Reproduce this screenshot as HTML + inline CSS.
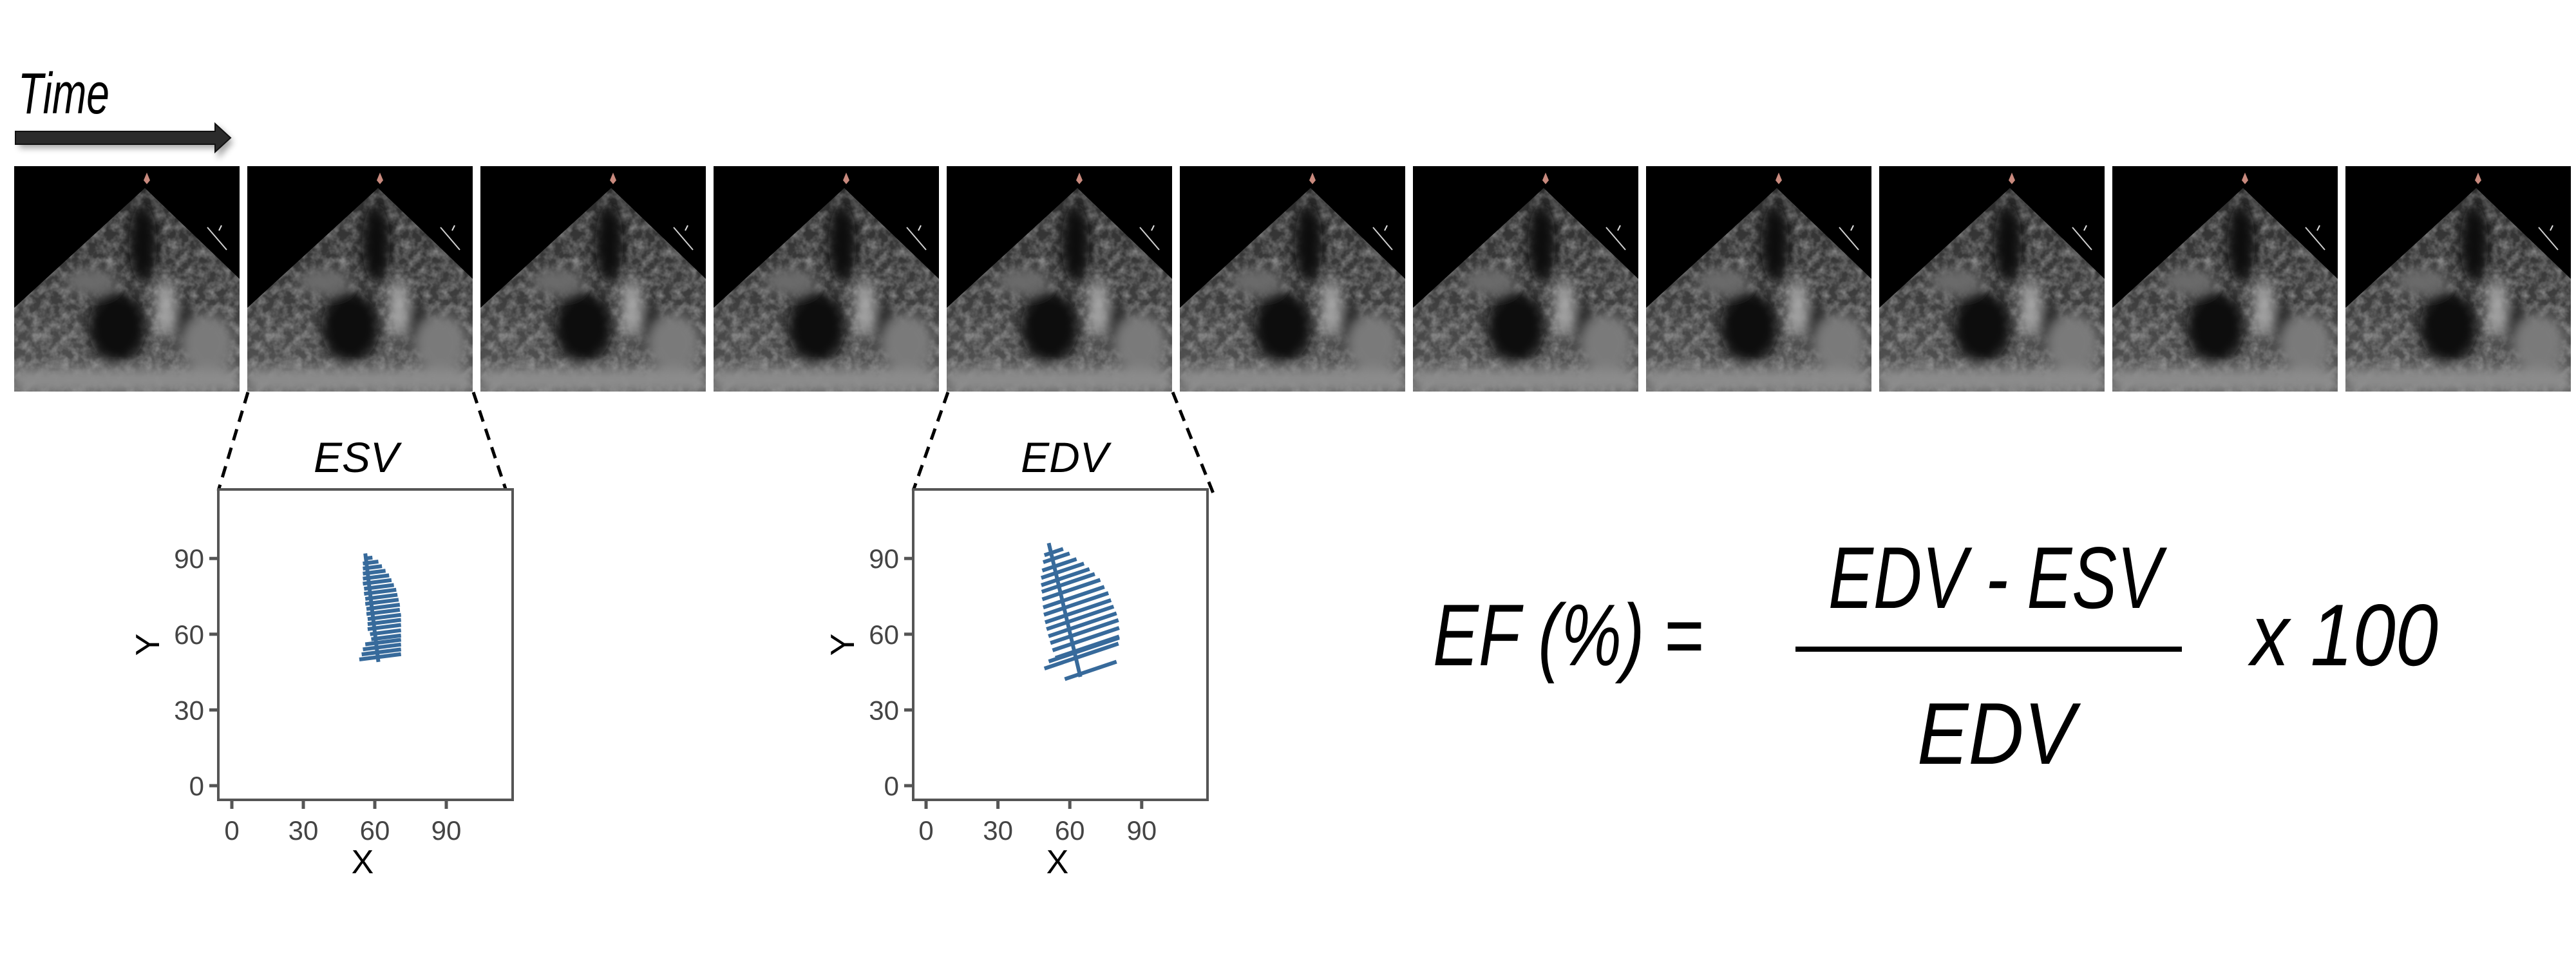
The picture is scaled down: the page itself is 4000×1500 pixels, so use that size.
<!DOCTYPE html>
<html><head><meta charset="utf-8"><style>
html,body{margin:0;padding:0;background:#fff;}
svg{display:block;}
text{font-family:"Liberation Sans",sans-serif;}
</style></head><body>
<svg id="root" width="4000" height="1500" viewBox="0 0 4000 1500" xmlns="http://www.w3.org/2000/svg">
<defs>
  <filter id="speckle" x="0" y="0" width="100%" height="100%">
    <feTurbulence type="fractalNoise" baseFrequency="0.07" numOctaves="3" seed="5" result="n"/>
    <feColorMatrix type="matrix" values="0 0 0 0 0.55  0 0 0 0 0.55  0 0 0 0 0.55  0 0 0 1.8 -0.6"/>
  </filter>
  <filter id="blur6"><feGaussianBlur stdDeviation="9"/></filter>
  <filter id="shadow"><feGaussianBlur stdDeviation="5"/></filter>
  <linearGradient id="sectorGrad" x1="0" y1="0" x2="0" y2="1">
    <stop offset="0" stop-color="#2c2c2c"/>
    <stop offset="0.6" stop-color="#3e3e3e"/>
    <stop offset="1" stop-color="#5a5a5a"/>
  </linearGradient>
  <clipPath id="sectorClip"><polygon points="203,34 0,220 0,350 350,350 350,175"/></clipPath>
  <g id="echo">
    <rect x="0" y="0" width="350" height="350" fill="#000"/>
    <g clip-path="url(#sectorClip)">
      <rect x="0" y="0" width="350" height="350" fill="url(#sectorGrad)"/>
      <rect x="0" y="0" width="350" height="350" filter="url(#speckle)" opacity="0.55"/>
      <g filter="url(#blur6)">
        <ellipse cx="200" cy="120" rx="22" ry="62" fill="#070707"/>
        <ellipse cx="160" cy="250" rx="45" ry="55" fill="#0a0a0a"/>
        <ellipse cx="265" cy="250" rx="15" ry="40" fill="#151515"/>
        <ellipse cx="235" cy="220" rx="14" ry="45" fill="#a8a8a8"/>
        <ellipse cx="300" cy="275" rx="40" ry="45" fill="#7a7a7a"/>
        <ellipse cx="120" cy="180" rx="40" ry="20" fill="#6a6a6a"/>
        <rect x="0" y="315" width="350" height="35" fill="#8c8c8c"/>
      </g>
    </g>
    <path d="M206,10 l5,12 l-5,6 l-5,-6 z" fill="#c98a7e"/>
    <line x1="300" y1="95" x2="330" y2="130" stroke="#cfcfcf" stroke-width="2"/>
    <line x1="318" y1="100" x2="322" y2="92" stroke="#ddd" stroke-width="2"/>
  </g>
</defs>
<rect x="0" y="0" width="4000" height="1500" fill="#fff"/>

<text x="28" y="176" font-size="90" font-style="italic" textLength="142" lengthAdjust="spacingAndGlyphs" fill="#000">Time</text>
<g>
  <path d="M30,212 h308 v-17 l24,26 l-24,26 v-17 h-308 z" fill="#000" opacity="0.35" filter="url(#shadow)"/>
  <path d="M24,204 h310 v-12 l24,22 l-24,22 v-12 h-310 z" fill="#2b2b2b" stroke="#111" stroke-width="2"/>
</g>

<g id="frames"></g>

<g stroke="#000" stroke-width="5" stroke-dasharray="18,12" fill="none">
  <line x1="385" y1="609" x2="339" y2="762"/>
  <line x1="735" y1="609" x2="786" y2="762"/>
</g>
<g stroke="#000" stroke-width="5" stroke-dasharray="18,12" fill="none">
  <line x1="1472" y1="609" x2="1418" y2="762"/>
  <line x1="1821" y1="609" x2="1884" y2="766"/>
</g>

<text x="553" y="733" font-size="66" font-style="italic" text-anchor="middle" fill="#000">ESV</text>
<text x="1653" y="733" font-size="66" font-style="italic" text-anchor="middle" fill="#000">EDV</text>

<g id="esvChart"></g>
<g id="edvChart"></g>

<g fill="#000">
  <text x="2225" y="1033" font-size="136" font-style="italic" textLength="420" lengthAdjust="spacingAndGlyphs">EF (%) =</text>
  <text x="2839" y="944" font-size="136" font-style="italic" textLength="518" lengthAdjust="spacingAndGlyphs">EDV - ESV</text>
  <rect x="2788" y="1004" width="600" height="8" fill="#000"/>
  <text x="2977" y="1186" font-size="136" font-style="italic" textLength="245" lengthAdjust="spacingAndGlyphs">EDV</text>
  <text x="3495" y="1033" font-size="136" font-style="italic" textLength="291" lengthAdjust="spacingAndGlyphs">x 100</text>
</g>
</svg>
<script>
// ---- chart data ----
const tickValues = [0, 30, 60, 90];
const tickLabels = ["0", "30", "60", "90"];
// ESV slices
const esvYL = [90,88,86,84,82,80,78,76,74,72,70,68,66,64,62,60,58,56,54,52,50];
const esvXL = [56,55,55,55,55,55,55.5,55.5,56,56,56.5,56.5,57,57,57,58,58.5,56,55,54.5,53.5];
const esvXR = [59,61.5,63,64.5,66,67,68,69,69.5,70,70.5,70.5,71,71,71,71,71,71,71,71,71];
const esvSlope = 0.12;
const esvAxisX = [56, 61.5];
const esvAxisY = [92, 49];
// EDV slices
const edvYL = [91.3,88.5,85.2,82.3,79.4,76.8,73.8,70.6,67.7,64.7,62.0,59.2,56.5,53.6,50.6,49.2,46.4,42.2];
const edvXL = [49.4,48.9,48.5,48.1,48.1,48.3,48.5,48.9,49.2,49.7,50.3,51.1,51.9,52.8,54.0,51.2,49.4,57.9];
const edvXR = [57.2,59.9,62.8,65.9,68.2,70.4,72.7,74.4,76.1,77.2,78.3,79.5,80.3,80.6,80.6,80.6,80.3,79.5];
const edvSlope = 0.32;
const edvAxisX = [51.2, 64.4];
const edvAxisY = [96.1, 43.1];

const NS = "http://www.w3.org/2000/svg";
function mk(tag, attrs, parent) {
  const e = document.createElementNS(NS, tag);
  for (const k in attrs) e.setAttribute(k, attrs[k]);
  parent.appendChild(e);
  return e;
}

const framesG = document.getElementById('frames');
const frameCount = 11;
for (let i = 0; i < frameCount; i++) {
  const u = mk('use', {href: '#echo', x: 22 + i * 362, y: 258}, framesG);
  
  
}

function drawChart(g, box, xs, ys, yl, xl, xr, slope, axX, axY, prefix) {
  const frame = mk('rect', {x: box.x, y: box.y, width: box.w, height: box.h, fill: '#fff', stroke: '#555', 'stroke-width': 4}, g);
  
  
  tickValues.forEach((v, i) => {
    const px = xs(v), py = ys(v);
    const tx = mk('line', {x1: px, y1: box.y + box.h, x2: px, y2: box.y + box.h + 14, stroke: '#555', 'stroke-width': 5}, g);
    
    
    const lx = mk('text', {x: px, y: box.y + box.h + 62, 'font-size': 42, fill: '#444', 'text-anchor': 'middle'}, g);
    lx.textContent = tickLabels[i];
    
    
    const ty = mk('line', {x1: box.x - 14, y1: py, x2: box.x, y2: py, stroke: '#555', 'stroke-width': 5}, g);
    
    
    const ly = mk('text', {x: box.x - 22, y: py + 15, 'font-size': 42, fill: '#444', 'text-anchor': 'end'}, g);
    ly.textContent = tickLabels[i];
    
    
  });
  const xt = mk('text', {x: box.x + box.w * 0.49, y: box.y + box.h + 114, 'font-size': 52, fill: '#000', 'text-anchor': 'middle'}, g);
  xt.textContent = 'X';
  
  
  const yx = box.x - 92, yy = box.y + box.h * 0.5;
  const yt = mk('text', {x: yx, y: yy, 'font-size': 52, fill: '#000', 'text-anchor': 'middle', transform: 'rotate(-90 ' + yx + ' ' + yy + ')'}, g);
  yt.textContent = 'Y';
  
  
  for (let i = 0; i < yl.length; i++) {
    const yr = yl[i] + slope * (xr[i] - xl[i]);
    const s = mk('line', {x1: xs(xl[i]), y1: ys(yl[i]), x2: xs(xr[i]), y2: ys(yr), stroke: '#376a9b', 'stroke-width': 6}, g);
    
    
  }
  const a = mk('line', {x1: xs(axX[0]), y1: ys(axY[0]), x2: xs(axX[1]), y2: ys(axY[1]), stroke: '#376a9b', 'stroke-width': 6}, g);
  
  
}

const esvBox = {x: 339, y: 760, w: 457, h: 482};
drawChart(document.getElementById('esvChart'), esvBox,
  v => 360 + v * 3.7, v => 1220 - v * 3.92,
  esvYL, esvXL, esvXR, esvSlope, esvAxisX, esvAxisY, 'esv');
const edvBox = {x: 1418, y: 760, w: 457, h: 482};
drawChart(document.getElementById('edvChart'), edvBox,
  v => 1438 + v * 3.72, v => 1220 - v * 3.92,
  edvYL, edvXL, edvXR, edvSlope, edvAxisX, edvAxisY, 'edv');
</script>
</body></html>
